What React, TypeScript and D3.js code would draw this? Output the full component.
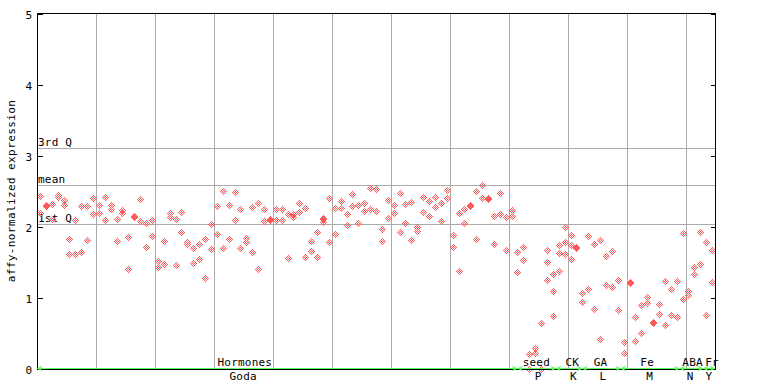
import React from 'react';
import * as d3 from 'd3';

// sample values (two replicates per sample position, a few with a third)
const rep1 = [
  2.437, 2.303, 2.324, 2.455, 2.380, 1.827, 2.094, 2.296, 2.296, 2.404,
  2.306, 2.423, 2.306, 2.108, 2.239, 1.855, 2.155, 2.390, 2.061, 2.094,
  1.521, 1.799, 2.193, 2.117, 2.207, 1.785, 1.700, 1.756, 1.827, 2.038,
  2.292, 2.503, 2.306, 2.489, 2.249, 1.841, 2.277, 2.334, 2.249, 2.106,
  2.249, 2.249, 2.179, 2.179, 2.334, 2.263, 1.799, 1.925, 2.108, 2.404,
  2.263, 2.362, 2.179, 2.461, 2.306, 2.334, 2.545, 2.531, 1.968, 2.376,
  2.306, 2.475, 2.320, 2.348, 1.996, 2.418, 2.362, 2.418, 2.334, 2.517,
  1.883, 2.193, 2.249, 2.313, 2.503, 2.587, 2.411, 2.151, 2.475, 2.137,
  2.235, 1.644, 1.714, 0.207, 0.292, 0.644, 1.672, 1.334, 1.742, 1.996,
  1.883, 1.721, 1.066, 1.869, 1.756, 1.813, 1.587, 1.658, 1.249, 0.376,
  1.228, 0.728, 0.897, 1.010, 0.655, 0.911, 1.235, 1.123, 1.235, 1.911,
  1.094, 1.432, 1.925, 1.785, 1.672,
];
const rep2 = [
  2.193, 2.289, 2.113, 2.427, 2.306, 1.620, 1.620, 1.648, 1.813, 2.179,
  2.193, 2.094, 2.249, 1.799, 2.201, 1.404, 2.134, 2.080, 1.714, 1.869,
  1.432, 1.475, 2.137, 1.461, 1.925, 1.756, 1.489, 1.545, 1.277, 1.686,
  1.901, 1.700, 1.827, 2.094, 1.700, 1.785, 1.644, 1.404, 2.080, 2.092,
  2.094, 2.094, 1.559, 2.137, 2.207, 1.573, 1.658, 1.573, 2.066, 1.785,
  1.897, 2.263, 2.024, 2.292, 2.052, 2.221, 2.249, 2.221, 1.799, 2.123,
  2.193, 1.925, 2.052, 1.813, 1.939, 2.207, 2.151, 2.277, 2.080, 2.404,
  1.714, 1.376, 2.052, 2.299, 1.827, 2.404, 2.397, 1.756, 2.179, 1.672,
  2.151, 1.362, 1.531, 0.000, 0.221, 0.000, 1.503, 1.094, 1.630, 1.785,
  1.742, 1.707, 0.939, 1.123, 0.841, 0.418, 1.179, 1.151, 0.827, 0.221,
  1.214, 0.390, 0.503, 0.925, 0.641, 0.770, 0.615, 0.756, 0.728, 0.982,
  1.038, 1.334, 1.475, 0.756, 1.221,
];
const rep3Index = [48, 86, 87, 88, 89, 90];
const rep3 = [2.122, 1.249, 0.742, 1.376, 1.615, 1.545];

// reference statistics
const statNames = ['3rd Q', 'mean', '1st Q'];
const statValues = [3.113, 2.587, 2.042];

const yTicks = [0, 1, 2, 3, 4, 5];

// groups (sample-index spans) and labels
const groupStart = [0, 81.5, 88, 92.5, 99, 109, 113];
const groupEnd = [81.5, 88, 92.5, 99, 109, 113, 115];
const topLabels = ['Hormones', 'seed', 'CK', 'GA', 'Fe', 'ABA', 'Fr'];
const topLabelAt = [35.25, 84.7, 90.8, 95.6, 103.5, 111.2, 114.5];
const bottomLabels = ['Goda', 'P', 'K', 'L', 'M', 'N', 'Y'];
const bottomLabelAt = [34.97, 85.0, 91.0, 96.0, 103.9, 110.8, 113.95];

const NS = 115;

export default function App() {
  const W = 768, H = 384;
  const left = 37, right = 715, top = 14, bottom = 369;
  const x = d3.scaleLinear().domain([0, NS]).range([left, right]);
  const y = d3.scaleLinear().domain([0, 5]).range([bottom, top]);
  const font = "'DejaVu Sans Mono', monospace";
  const red = '#ff5a5a';
  const green = '#5cfc5c';

  const pts: { k: number; v: number }[] = [];
  rep1.forEach((v, k) => pts.push({ k, v }));
  rep2.forEach((v, k) => pts.push({ k, v }));
  rep3.forEach((v, i) => pts.push({ k: rep3Index[i], v }));

  const offs: [number, number][] = [];
  for (let dx = -3; dx <= 3; dx++)
    for (let dy = -3; dy <= 3; dy++) {
      const s = Math.abs(dx) + Math.abs(dy);
      if (s === 1 || s === 3) offs.push([dx, dy]);
    }
  const markerPath = pts
    .map(({ k, v }) => {
      const px = Math.round(x(k + 0.5));
      const py = Math.round(y(v));
      return offs.map(([dx, dy]) => `M${px + dx},${py + dy}h1v1h-1z`).join('');
    })
    .join('');

  const vGrid = d3.range(10, NS, 10);
  const gy = (v: number) => Math.round(y(v)) + 0.5;

  const arrowY = 368.5;

  return (
    <svg width={W} height={H} style={{ position: 'absolute', left: 0, top: 0, background: '#fff' }}
      fontFamily={font} fontSize={11}>
      <rect x={0} y={0} width={W} height={H} fill="#fff" />
      {/* vertical grid */}
      {vGrid.map((g) => (
        <line key={'v' + g} x1={Math.round(x(g)) + 0.5} x2={Math.round(x(g)) + 0.5} y1={top} y2={bottom}
          stroke="#aaaaaa" strokeWidth={1} shapeRendering="crispEdges" />
      ))}
      {/* stat lines */}
      {statValues.map((v, i) => (
        <g key={'s' + i}>
          <line x1={left} x2={right} y1={gy(v)} y2={gy(v)} stroke="#aaaaaa" strokeWidth={1} shapeRendering="crispEdges" />
          <text x={left + 1} y={gy(v) - 3} fill="#000" letterSpacing={0.2}>{statNames[i]}</text>
        </g>
      ))}
      {/* points */}
      <path d={markerPath} fill={red} shapeRendering="crispEdges" />
      {/* frame */}
      <line x1={left} x2={right} y1={top - 0.5} y2={top - 0.5} stroke="#000" shapeRendering="crispEdges" />
      <line x1={right + 0.5} x2={right + 0.5} y1={top - 1} y2={bottom + 1} stroke="#000" shapeRendering="crispEdges" />
      <line x1={left + 0.5} x2={left + 0.5} y1={top - 1} y2={bottom + 1} stroke="#000" shapeRendering="crispEdges" />
      <line x1={left} x2={right + 1} y1={bottom + 0.5} y2={bottom + 0.5} stroke="#000" shapeRendering="crispEdges" />
      {/* y ticks */}
      {yTicks.map((t) => (
        <g key={'t' + t}>
          <line x1={left} x2={left + 6} y1={gy(t)} y2={gy(t)} stroke="#000" shapeRendering="crispEdges" />
          <line x1={right - 4} x2={right} y1={gy(t)} y2={gy(t)} stroke="#000" shapeRendering="crispEdges" />
          <text x={32} y={gy(t) + 4} textAnchor="end" fill="#000">{t}</text>
        </g>
      ))}
      {/* y axis title */}
      <text transform={`translate(15,191) rotate(-90)`} textAnchor="middle" fill="#000" letterSpacing={0.4}>
        affy-normalized expression
      </text>
      {/* group arrows */}
      {groupStart.map((s, i) => {
        const x0 = x(s), x1 = x(groupEnd[i]);
        return (
          <g key={'g' + i} stroke={green} fill="none" strokeWidth={1.2}>
            <line x1={x0 + 1} x2={x1 - 1} y1={arrowY} y2={arrowY} />
            <path d={`M${x0 + 5},${arrowY - 2}L${x0 + 1},${arrowY}L${x0 + 5},${arrowY + 2}`} />
            <path d={`M${x1 - 5},${arrowY - 2}L${x1 - 1},${arrowY}L${x1 - 5},${arrowY + 2}`} />
          </g>
        );
      })}
      {/* group labels */}
      {topLabels.map((t, i) => (
        <text key={'tl' + i} x={x(topLabelAt[i])} y={366} textAnchor="middle" fill="#000" letterSpacing={0.2}>{t}</text>
      ))}
      {bottomLabels.map((t, i) => (
        <text key={'bl' + i} x={x(bottomLabelAt[i])} y={380} textAnchor="middle" fill="#000" letterSpacing={0.2}>{t}</text>
      ))}
    </svg>
  );
}
